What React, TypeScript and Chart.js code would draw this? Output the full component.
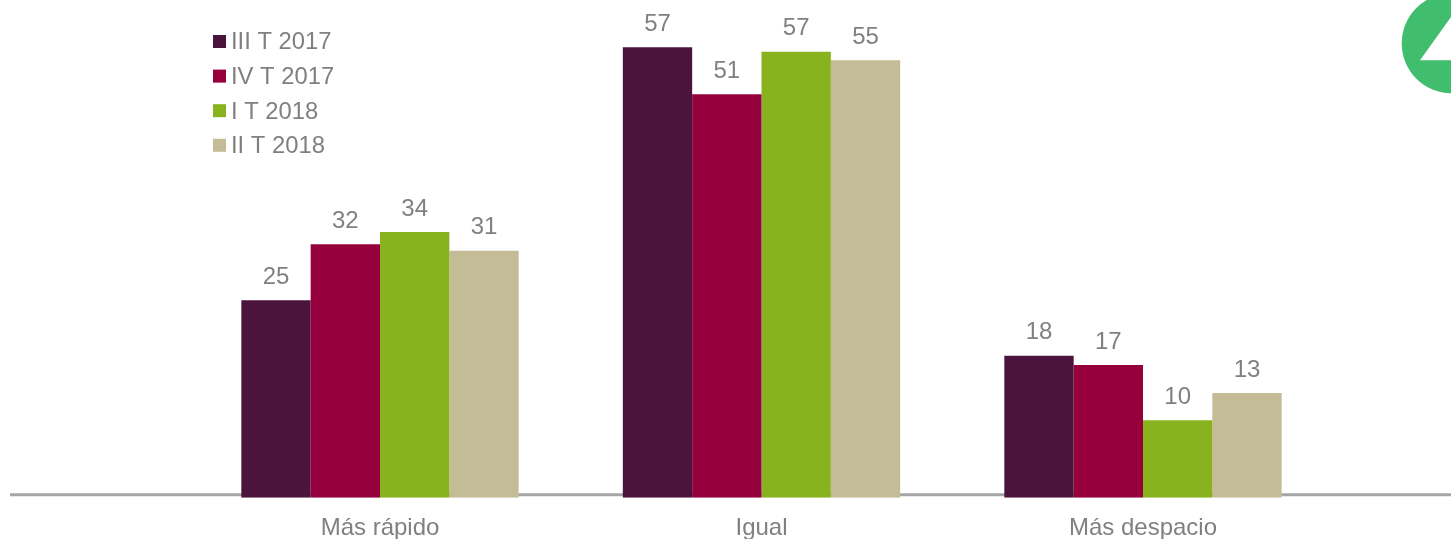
import React, { useEffect, useRef } from "react";
import { Chart, registerables } from "chart.js";

Chart.register(...registerables);

const categories = ["Más rápido", "Igual", "Más despacio"];
const seriesNames = ["III T 2017", "IV T 2017", "I T 2018", "II T 2018"];
const colors = ["#4B143D", "#96003C", "#88B31E", "#C4BC96"];
const q3_2017 = [25.15, 57.38, 18.09];
const q4_2017 = [32.28, 51.39, 16.9];
const q1_2018 = [33.85, 56.82, 9.86];
const q2_2018 = [31.46, 55.72, 13.34];
const seriesValues = [q3_2017, q4_2017, q1_2018, q2_2018];
const labelText = [
  ["25", "57", "18"],
  ["32", "51", "17"],
  ["34", "57", "10"],
  ["31", "55", "13"],
];

const GREY = "#808080";
const FONT = '"Liberation Sans", Arial, sans-serif';

const overlay = {
  id: "overlay",
  beforeDatasetsDraw(chart: any) {
    const { ctx, scales } = chart;
    const y0 = scales.y.getPixelForValue(0);
    ctx.save();
    ctx.strokeStyle = "#A6A6A6";
    ctx.lineWidth = 3;
    ctx.beginPath();
    ctx.moveTo(10, y0 - 3);
    ctx.lineTo(chart.width, y0 - 3);
    ctx.stroke();
    ctx.restore();
  },
  afterDatasetsDraw(chart: any) {
    const { ctx } = chart;
    ctx.save();
    ctx.font = `24px ${FONT}`;
    ctx.fillStyle = GREY;
    ctx.textAlign = "center";
    ctx.textBaseline = "alphabetic";
    chart.data.datasets.forEach((_: any, i: number) => {
      chart.getDatasetMeta(i).data.forEach((bar: any, j: number) => {
        ctx.fillText(labelText[i][j], bar.x, bar.y - 16.3);
      });
    });
    // legend
    ctx.font = `23.8px ${FONT}`;
    ctx.textAlign = "left";
    seriesNames.forEach((name, i) => {
      const top = 35 + i * 34.6;
      ctx.fillStyle = colors[i];
      ctx.fillRect(213, top, 13, 13);
      ctx.fillStyle = GREY;
      ctx.fillText(name, 231, top + 14.3);
    });
    // corner logo
    ctx.fillStyle = "#41BD6E";
    ctx.beginPath();
    ctx.arc(1451.7, 43.3, 50, 0, Math.PI * 2);
    ctx.fill();
    ctx.fillStyle = "#FFFFFF";
    ctx.beginPath();
    ctx.moveTo(1420, 60.3);
    ctx.lineTo(1451, 60.3);
    ctx.lineTo(1451, 17);
    ctx.closePath();
    ctx.fill();
    ctx.restore();
  },
};

export default function App() {
  const ref = useRef<HTMLCanvasElement>(null);
  useEffect(() => {
    document.body.style.margin = "0";
    const chart = new Chart(ref.current!, {
      type: "bar",
      data: {
        labels: categories,
        datasets: seriesNames.map((name, i) => ({
          label: name,
          data: seriesValues[i],
          backgroundColor: colors[i],
          barPercentage: 1,
          categoryPercentage: 0.727,
        })),
      },
      options: {
        animation: false,
        responsive: false,
        devicePixelRatio: 1,
        layout: { padding: { left: 189.25, right: 117.25, top: 0, bottom: 0 } },
        plugins: { legend: { display: false }, tooltip: { enabled: false } },
        scales: {
          x: {
            grid: { display: false },
            border: { display: false },
            ticks: {
              color: GREY,
              font: { family: FONT, size: 24 },
              padding: 8,
              maxRotation: 0,
            },
            afterFit(axis: any) {
              axis.height = 41.3;
            },
          },
          y: {
            display: false,
            min: 0,
            max: 63.4,
          },
        },
      },
      plugins: [overlay],
    });
    return () => chart.destroy();
  }, []);
  return (
    <canvas
      ref={ref}
      width={1451}
      height={539}
      style={{ display: "block", width: 1451, height: 539 }}
    />
  );
}
